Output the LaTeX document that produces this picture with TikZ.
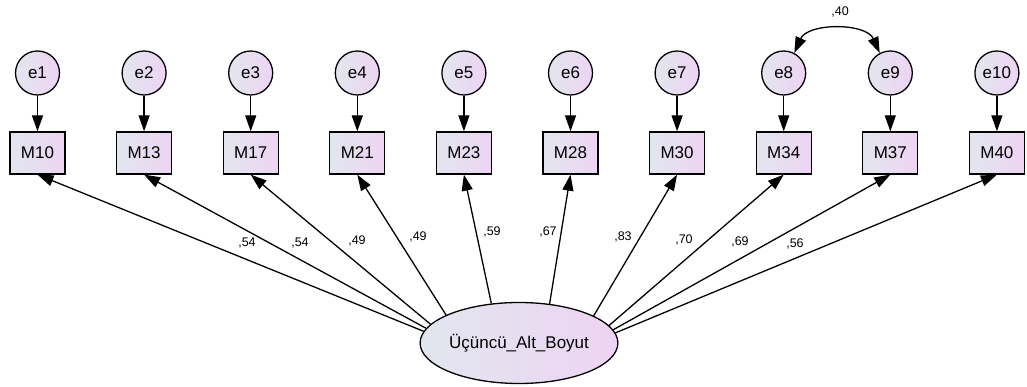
\documentclass[tikz,border=0pt]{standalone}
\usepackage{fontspec}
\setmainfont{Liberation Sans}
\usetikzlibrary{arrows.meta,shapes.geometric}
\definecolor{gl}{RGB}{226,230,238}
\definecolor{gr}{RGB}{237,212,243}
\begin{document}
\begin{tikzpicture}[x=1pt,y=-1pt,
  tip/.tip={Triangle[length=16pt,width=11pt]},
  arr/.style={line width=1.3pt,-tip},
  errc/.style={circle,draw,line width=1.3pt,minimum size=44pt,inner sep=0pt,left color=gl,right color=gr,font=\fontsize{17}{19}\selectfont},
  obs/.style={rectangle,draw,line width=1.3pt,minimum width=55pt,minimum height=42pt,inner sep=0pt,left color=gl,right color=gr,font=\fontsize{17}{19}\selectfont},
  lat/.style={ellipse,draw,line width=1.3pt,minimum width=175pt,minimum height=81pt,inner sep=0pt,left color=gl,right color=gr,font=\fontsize{17}{19}\selectfont},
  coef/.style={font=\fontsize{12.5}{14}\selectfont,inner sep=0pt}]
\useasboundingbox (0,0) rectangle (1027,387);
\node[lat] (F) at (519,343) {Üçüncü\_Alt\_Boyut};
\foreach \i/\m/\a/\lx/\ly/\c in {1/10/173.4/247/243/{,54}, 2/13/171.2/300/243/{,54}, 3/17/168.8/357/241/{,49}, 4/21/159.4/418/237/{,49}, 5/23/125.9/492/232/{,59}, 6/28/52.2/548/232/{,67}, 7/30/20.1/623/237/{,83}, 8/34/11.2/684/240/{,70}, 9/37/8.8/740/242/{,69}, 10/40/6.6/795/244/{,56}} {
  \pgfmathsetmacro\xx{37.5+106.6*(\i-1)}
  \node[errc] (e\i) at (\xx,73) {e\i};
  \node[obs] (m\i) at (\xx,153) {M\m};
  \draw[arr] (e\i) -- (m\i);
  \draw[arr] (F.\a) -- (m\i.south);
  \node[coef] (c\i) at (\lx,\ly) {\c};
}
\draw[line width=1.3pt,tip-tip] (e8.62) to[bend left=66] (e9.118);
\node[coef] (c89) at (840,12) {,40};
\end{tikzpicture}
\end{document}
